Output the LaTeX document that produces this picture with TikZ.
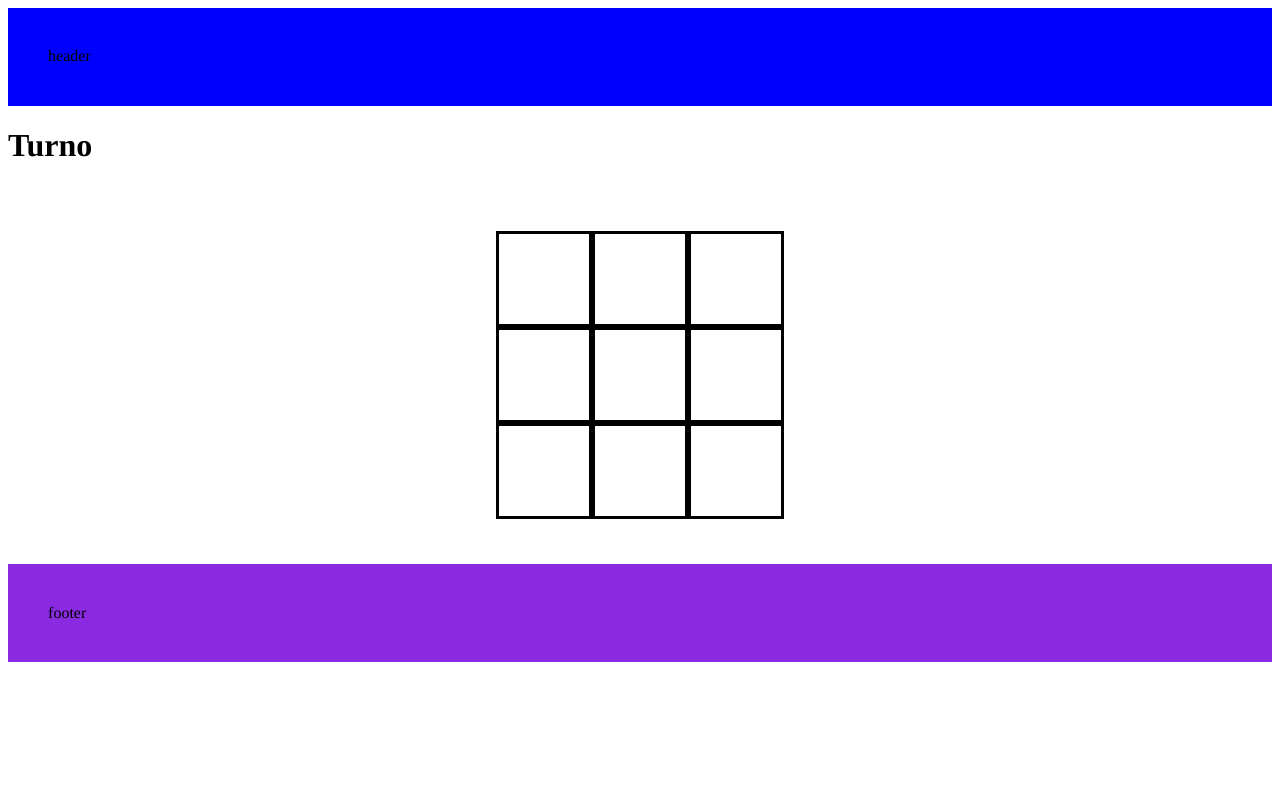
\documentclass[tikz,border=0pt]{standalone}
\usepackage{fontspec}
\setmainfont{Liberation Serif}
\usetikzlibrary{positioning}
\definecolor{barblue}{RGB}{0,0,255}
\definecolor{barviolet}{RGB}{138,43,226}
\tikzset{
  bar/.style = {inner sep=0pt, outer sep=0pt, minimum width=1264pt, minimum height=98pt, anchor=north west},
  bartext/.style = {inner sep=0pt, anchor=base west, font=\fontsize{16pt}{19pt}\selectfont},
  cell/.style = {draw=black, line width=3pt, fill=white, minimum size=93pt, inner sep=0pt, outer sep=0pt}
}

\begin{document}
\begin{tikzpicture}[x=1pt,y=-1pt]
    \useasboundingbox (0,0) rectangle (1280,800);
    %\draw[help lines] (0,0) grid (1280,800);

    \node[bar, fill=barblue] (header) at (8,8) {};
    \node[bartext] (headertext) at (48,62) {header};

    \node[inner sep=0pt, anchor=base west, font=\fontsize{32pt}{38pt}\selectfont\bfseries] (turno) at (8,156) {Turno};

    % board
    \foreach \r in {0,1,2}
        \foreach \c in {0,1,2}
            \node[cell] (c\r\c) at ({544+96*\c},{279+96*\r}) {};

    \node[bar, fill=barviolet] (footer) at (8,564) {};
    \node[bartext] (footertext) at (48,618) {footer};
\end{tikzpicture}
\end{document}
